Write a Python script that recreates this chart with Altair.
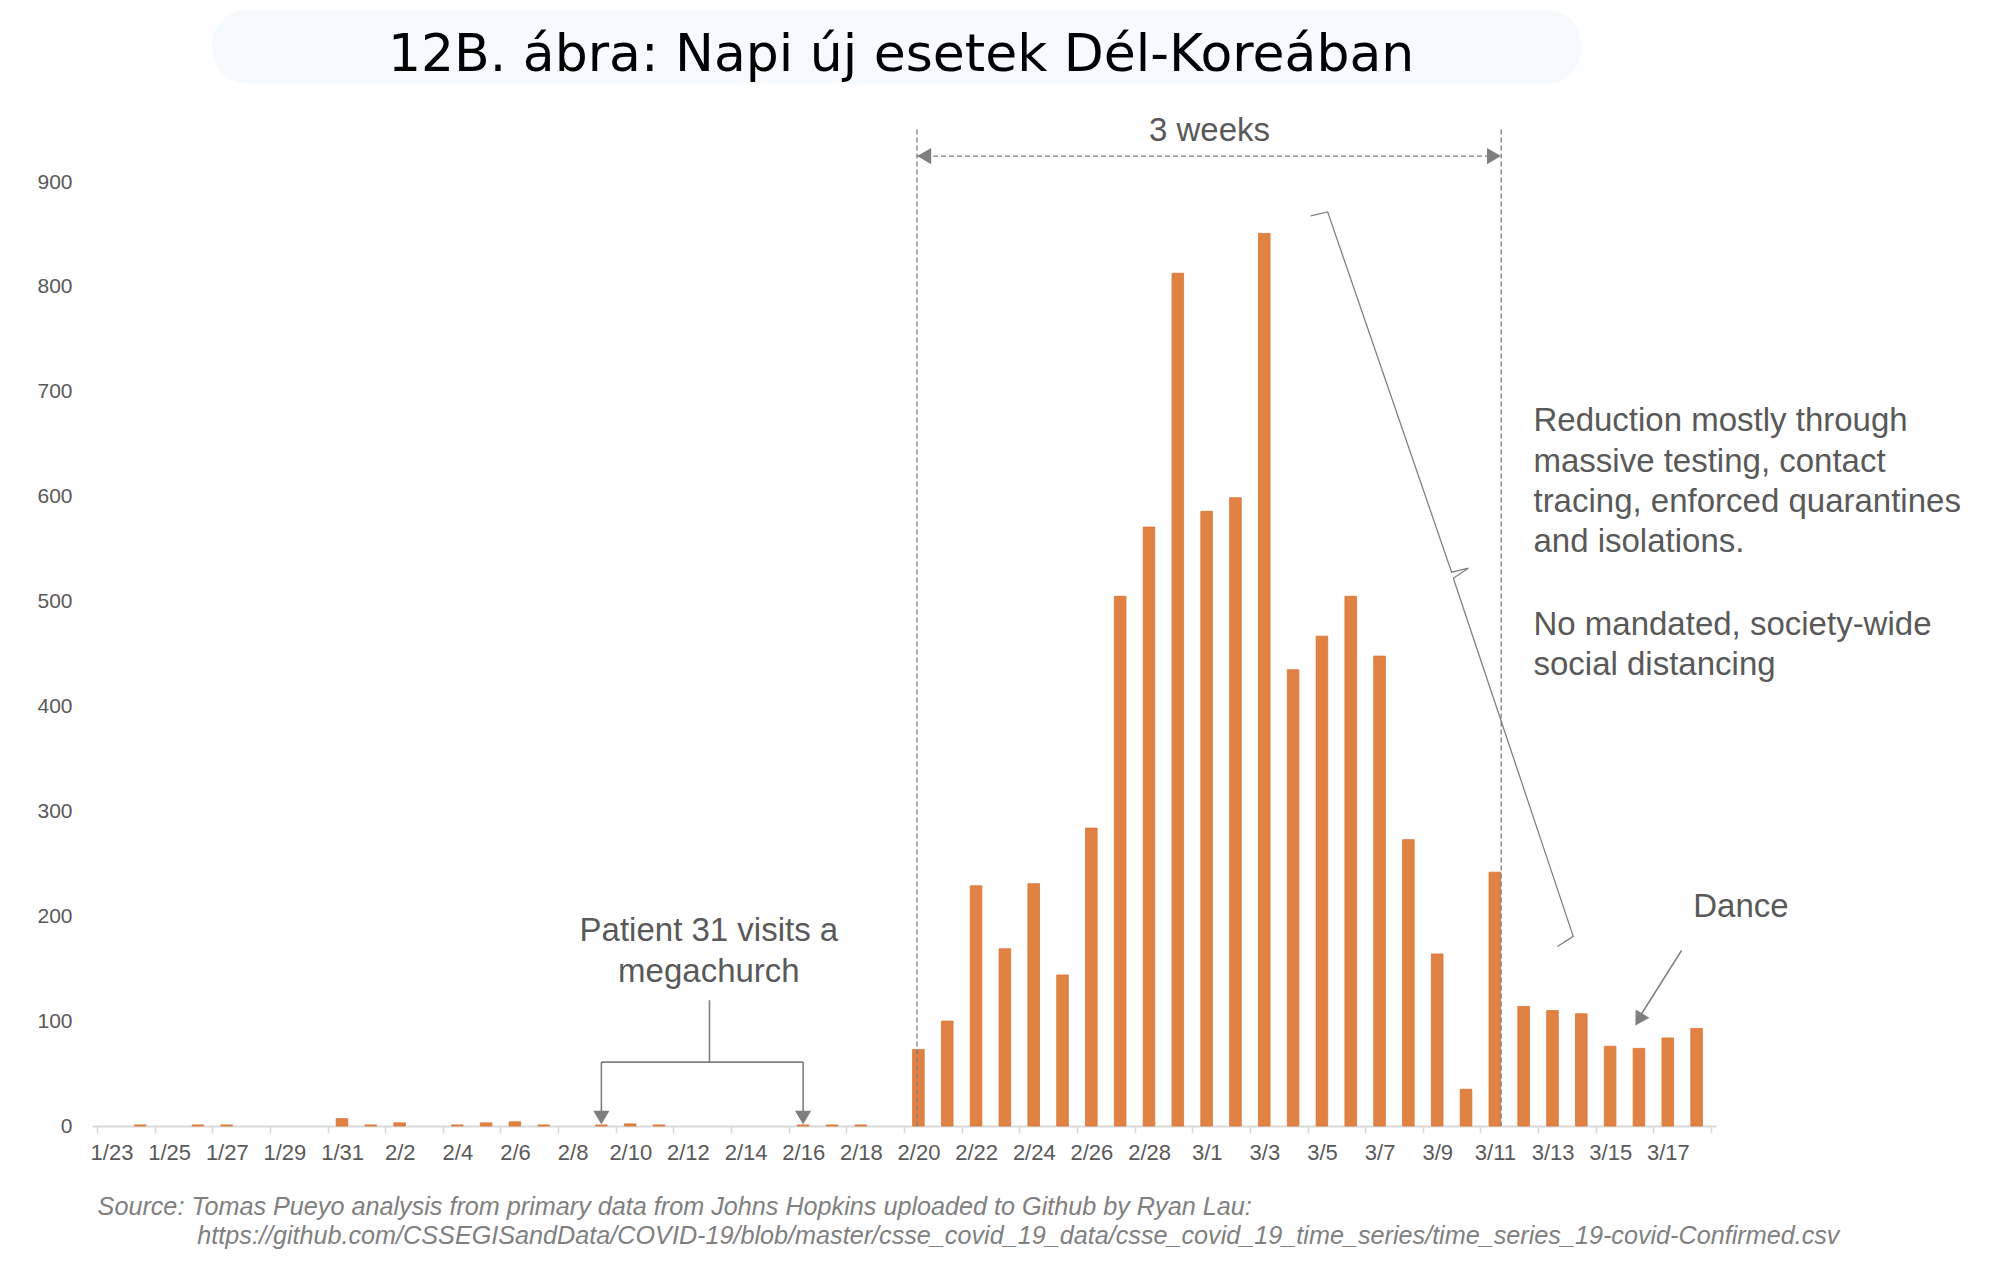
import json
import altair as alt
import pandas as pd

# ---------------- data ----------------
dates = ["1/23", "1/24", "1/25", "1/26", "1/27", "1/28", "1/29", "1/30", "1/31",
         "2/1", "2/2", "2/3", "2/4", "2/5", "2/6", "2/7", "2/8", "2/9", "2/10",
         "2/11", "2/12", "2/13", "2/14", "2/15", "2/16", "2/17", "2/18", "2/19",
         "2/20", "2/21", "2/22", "2/23", "2/24", "2/25", "2/26", "2/27", "2/28",
         "2/29", "3/1", "3/2", "3/3", "3/4", "3/5", "3/6", "3/7", "3/8", "3/9",
         "3/10", "3/11", "3/12", "3/13", "3/14", "3/15", "3/16", "3/17", "3/18"]
new_cases = [0, 1, 0, 1, 1, 0, 0, 0, 7,
             1, 3, 0, 1, 3, 4, 1, 0, 1, 2,
             1, 0, 0, 0, 0, 1, 1, 1, 0,
             73, 100, 229, 169, 231, 144, 284, 505, 571,
             813, 586, 599, 851, 435, 467, 505, 448, 273, 164,
             35, 242, 114, 110, 107, 76, 74, 84, 93]
tick_labels = dates[0::2]
y_ticks = [0, 100, 200, 300, 400, 500, 600, 700, 800, 900]

title_text = "12B. ábra: Napi új esetek Dél-Koreában"
right_lines = ["Reduction mostly through", "massive testing, contact",
               "tracing, enforced quarantines", "and isolations.",
               "No mandated, society-wide", "social distancing"]
patient_lines = ["Patient 31 visits a", "megachurch"]
source_lines = ["Source: Tomas Pueyo analysis from primary data from Johns Hopkins uploaded to Github by Ryan Lau:",
                "https://github.com/CSSEGISandData/COVID-19/blob/master/csse_covid_19_data/csse_covid_19_time_series/time_series_19-covid-Confirmed.csv"]

# ---------------- layout (in data units: x = day index, y = cases) ----------------
N = len(dates)
XS = alt.Scale(domain=[0, N], nice=False, zero=False)
YS = alt.Scale(domain=[0, 900], nice=False, zero=True)
GRAY = "#7F7F7F"
TXT = "#595959"
FONT = "Liberation Sans"
PLOT_W = 1624
BAND = PLOT_W / N

bars_df = pd.DataFrame({"x": [i + 0.5 for i in range(N)], "cases": new_cases, "date": dates})

label_expr = ("(datum.value / 2 < %d) ? %s[datum.value / 2] : ''"
              % (len(tick_labels), json.dumps(tick_labels).replace('"', "'")))

bars = alt.Chart(bars_df).transform_filter("datum.cases > 0").mark_bar(
    size=BAND * 0.4, color="#E08244", stroke="#DC7434", strokeWidth=0.8
).encode(
    x=alt.X("x:Q", scale=XS, axis=alt.Axis(
        values=list(range(0, N + 1, 2)), labelExpr=label_expr, labelOffset=BAND / 2,
        labelFontSize=22, labelFont=FONT, labelColor=TXT, labelPadding=9,
        labelOverlap=False, labelFlush=False, tickSize=7, tickColor="#D9D9D9",
        tickWidth=1.5, domainColor="#D9D9D9", domainWidth=2, grid=False, title=None)),
    y=alt.Y("cases:Q", scale=YS, axis=alt.Axis(
        values=y_ticks, labelFontSize=21, labelFont=FONT, labelColor=TXT,
        labelPadding=20, ticks=False, domain=False, grid=False, title=None)),
)

def X(f="x"):
    return alt.X(f + ":Q", scale=XS, axis=None)

def Y(f="y"):
    return alt.Y(f + ":Q", scale=YS, axis=None)

# title background blob
blob_df = pd.DataFrame({"x": [4.0], "x2": [51.5], "y": [1064], "y2": [994]})
blob = alt.Chart(blob_df).mark_rect(color="#F6FAFC", cornerRadius=34).encode(
    x=X(), x2="x2", y=Y(), y2="y2")

title_df = pd.DataFrame({"x": [27.9], "y": [1021], "t": [title_text]})
title = alt.Chart(title_df).mark_text(
    font="DejaVu Sans", fontSize=52, color="#000000", align="center", baseline="middle"
).encode(x=X(), y=Y(), text="t:N")

# dashed lines (two verticals + the 3-weeks span)
dash_df = pd.DataFrame({"x": [28.45, 48.72, 28.45], "x2": [28.45, 48.72, 48.72],
                        "y": [950, 950, 924.7], "y2": [0, 0, 924.7]})
dashed = alt.Chart(dash_df).mark_rule(color=GRAY, strokeWidth=1.3, strokeDash=[5, 3]).encode(
    x=X(), x2="x2", y=Y(), y2="y2")

# solid arrow segments (patient 31 bracket, dance arrow)
seg_df = pd.DataFrame({
    "x":  [21.25, 17.5, 17.5, 24.5, 54.98],
    "x2": [21.25, 24.5, 17.5, 24.5, 53.5],
    "y":  [119.9, 60.9, 60.9, 60.9, 167.4],
    "y2": [60.9, 60.9, 14.0, 14.0, 103.0]})
segs = alt.Chart(seg_df).mark_rule(color=GRAY, strokeWidth=1.6).encode(
    x=X(), x2="x2", y=Y(), y2="y2")

# arrow heads
head_df = pd.DataFrame({
    "x": [28.7, 48.47, 17.5, 24.5, 53.5],
    "y": [924.7, 924.7, 8.0, 8.0, 101.5],
    "shape": ["triangle-left", "triangle-right", "triangle-down", "triangle-down", "triangle-up"],
    "angle": [0, 0, 0, 0, 211]})
heads = alt.Chart(head_df).mark_point(filled=True, color=GRAY, opacity=1, size=260).encode(
    x=X(), y=Y(), shape=alt.Shape("shape:N", scale=None), angle=alt.Angle("angle:Q", scale=None))

# rotated curly brace
brace_df = pd.DataFrame({
    "x": [42.11, 42.70, 47.00, 47.58, 47.06, 51.22, 50.67],
    "y": [867.7, 871.5, 528.0, 531.8, 522.3, 180.8, 171.2],
    "o": list(range(7))})
brace = alt.Chart(brace_df).mark_line(color="#808080", strokeWidth=1.3).encode(
    x=X(), y=Y(), order="o:Q")

# annotation texts
right_df = pd.DataFrame({"x": [49.84] * 6,
                         "y": [671.7, 633.2, 594.6, 556.6, 477.6, 439.1],
                         "t": right_lines})
right_txt = alt.Chart(right_df).mark_text(
    font=FONT, fontSize=33, color=TXT, align="left", baseline="middle"
).encode(x=X(), y=Y(), text="t:N")

center_df = pd.DataFrame({"x": [21.23, 21.23, 57.04, 38.6],
                          "y": [185.5, 146.5, 208.4, 949.0],
                          "t": patient_lines + ["Dance", "3 weeks"]})
center_txt = alt.Chart(center_df).mark_text(
    font=FONT, fontSize=33, color=TXT, align="center", baseline="middle"
).encode(x=X(), y=Y(), text="t:N")

source_df = pd.DataFrame({"x": [0.02, 3.48], "y": [-77.0, -104.5], "t": source_lines})
source = alt.Chart(source_df).mark_text(
    font=FONT, fontSize=25.2, fontStyle="italic", color="#808080", align="left", baseline="middle"
).encode(x=X(), y=Y(), text="t:N")

chart = alt.layer(
    blob, title, bars, dashed, segs, heads, brace, right_txt, center_txt, source
).resolve_axis(x="independent", y="independent").properties(
    width=PLOT_W, height=944,
    padding={"left": 84, "top": 174, "right": 270, "bottom": 150},
    autosize=alt.AutoSizeParams(type="none"),
    background="white",
).configure_view(stroke=None)

chart.save("out.html", embed_options={"renderer": "svg", "actions": False})
